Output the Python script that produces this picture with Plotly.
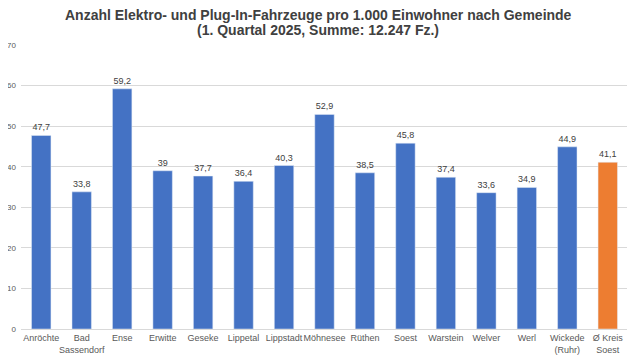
import plotly.graph_objects as go

categories = ["Anröchte", "Bad<br>Sassendorf", "Ense", "Erwitte", "Geseke", "Lippetal",
              "Lippstadt", "Möhnesee", "Rüthen", "Soest", "Warstein", "Welver", "Werl",
              "Wickede<br>(Ruhr)", "Ø Kreis<br>Soest"]
values = [47.7, 33.8, 59.2, 39.0, 37.7, 36.4, 40.3, 52.9, 38.5, 45.8, 37.4, 33.6, 34.9, 44.9, 41.1]
colors = ["#4472C4"] * 14 + ["#ED7D31"]
y_ticks = [0, 10, 20, 30, 40, 50, 60, 70]
title_lines = ["Anzahl Elektro- und Plug-In-Fahrzeuge pro 1.000 Einwohner nach Gemeinde",
               "(1. Quartal 2025, Summe: 12.247 Fz.)"]

def fmt(v):
    s = ("%.1f" % v).rstrip("0").rstrip(".")
    return s.replace(".", ",")

labels = [fmt(v) for v in values]

fig = go.Figure(go.Bar(
    x=categories, y=values, marker_color=colors, text=labels,
    textposition="outside", cliponaxis=False,
    textfont=dict(family="Liberation Sans, Arial", size=9, color="#404040"),
))
W, H = 627, 349
ml, mr, mt, mb = 13, 7, 37, 28
ph = H - mt - mb
pw = W - ml - mr
fig.update_layout(
    width=W, height=H,
    margin=dict(l=ml, r=mr, t=mt, b=mb),
    paper_bgcolor="white", plot_bgcolor="white",
    bargap=0.52,
    showlegend=False,
    font=dict(family="Liberation Sans, Arial", size=9, color="#595959"),
)
for line, yc in zip(title_lines, [7, 22]):
    fig.add_annotation(
        text="<b>" + line + "</b>", showarrow=False,
        xref="paper", yref="paper",
        x=(310 - ml) / pw, y=1 + (mt - yc) / ph,
        xanchor="center", yanchor="middle",
        font=dict(family="Liberation Sans, Arial", size=14, color="#404040"),
    )
fig.update_yaxes(range=[0, 70], tickvals=y_ticks, showgrid=True, gridcolor="#D9D9D9",
                 gridwidth=1, zeroline=False, showline=False, ticks="", automargin=False,
                 ticklabelstandoff=4,
                 tickfont=dict(size=8, color="#595959"))
fig.update_xaxes(showline=True, linecolor="#D9D9D9", linewidth=1, ticks="", automargin=False,
                 tickfont=dict(size=9, color="#595959"), tickangle=0)
fig.write_html("out.html")
